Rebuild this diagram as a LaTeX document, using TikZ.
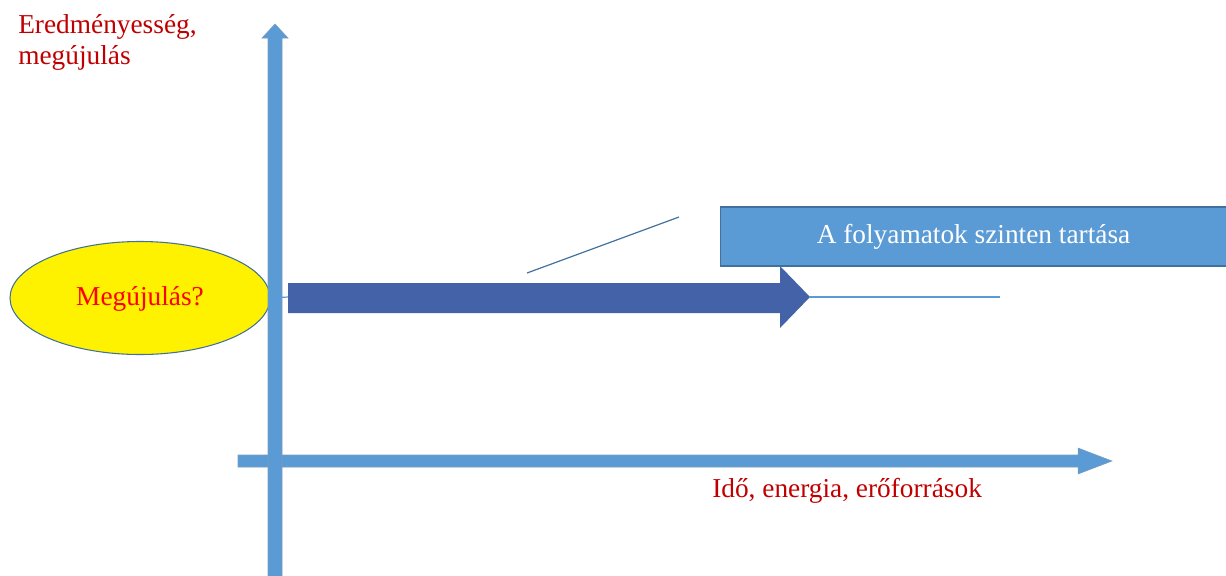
\documentclass[tikz,border=0pt]{standalone}
\usepackage{fontspec}
\setmainfont{Liberation Serif}
\usetikzlibrary{shapes.geometric}
\definecolor{axisblue}{HTML}{5B9BD5}
\definecolor{edgeblue}{HTML}{41719C}
\definecolor{darkarrow}{HTML}{4462A8}
\definecolor{labelred}{HTML}{C00000}
\definecolor{brightred}{HTML}{FF0000}
\tikzset{
  axisarrow/.style={fill=axisblue, draw=edgeblue!70, line width=0.4pt},
  bigarrow/.style={fill=darkarrow, draw=none},
  thinline/.style={draw=edgeblue, line width=0.9pt},
  lbl/.style={font=\fontsize{20.5}{22.5}\selectfont, inner sep=0pt},
}
\begin{document}
\begin{tikzpicture}[x=0.75pt,y=-0.75pt]
\useasboundingbox (0,0) rectangle (1226,575);
\clip (0,0) rectangle (1226,575);
% ellipse
\node[ellipse, draw=edgeblue, line width=0.8pt, fill=yellow, minimum width=195pt, minimum height=84.75pt, inner sep=0pt] (ell) at (140,298) {};
\node[lbl, text=brightred, anchor=base] (elltext) at (140,305) {Megújulás?};
% big arrow
\coordinate (bstart) at (288,297);
\coordinate (btip) at (810,297);
\draw[thinline, draw=axisblue] (ell.east) -- (bstart);
\fill[bigarrow] (288,283) -- (780,283) -- (780,266) -- (btip) -- (780,328) -- (780,313) -- (288,313) -- cycle;
\coordinate (lineend) at (1000,297);
\draw[thinline, draw=axisblue] (btip) -- (lineend);
% slanted line
\coordinate (sl1) at (527,273);
\coordinate (sl2) at (679,217);
\draw[thinline] (sl1) -- (sl2);
% box
\node[draw=edgeblue, line width=0.8pt, fill=axisblue, minimum width=380pt, minimum height=44.25pt, inner sep=0pt, text=white, font=\fontsize{20.5}{22.5}\selectfont] (box) at (973.5,236.5) {A folyamatok szinten tartása};
% horizontal axis
\path[axisarrow] (238,455) -- (1078,455) -- (1078,448) -- (1112,461) -- (1078,474) -- (1078,467) -- (238,467) -- cycle;
% vertical axis
\path[axisarrow] (268,600) -- (268,38) -- (262,38) -- (275,24) -- (288,38) -- (282,38) -- (282,600) -- cycle;
% labels
\node[lbl, text=labelred, anchor=base west, align=left] (ylabel) at (18,33) {Eredményesség,};
\node[lbl, text=labelred, anchor=base west] (ylabel2) at (18,64) {megújulás};
\node[lbl, text=labelred, anchor=base west] (xlabel) at (712,497) {Idő, energia, erőforrások};
\end{tikzpicture}
\end{document}
